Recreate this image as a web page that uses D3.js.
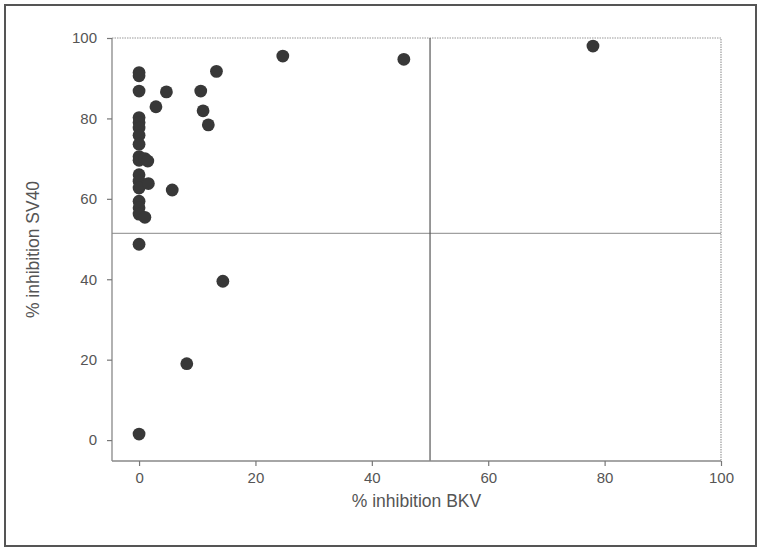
<!DOCTYPE html>
<html>
<head>
<meta charset="utf-8">
<script src="https://cdn.jsdelivr.net/npm/d3@7"></script>
<style>
  html, body { margin: 0; padding: 0; background: #fff; }
  svg { display: block; font-family: "Liberation Sans", Arial, sans-serif; }
</style>
</head>
<body>
<svg id="chart" width="761" height="550"></svg>
<script>
// Percent inhibition of BKV (x) and SV40 (y) for each sample
const bkv  = [0, 0, 0, 0, 0, 0, 0, 0, 0, 0, 0, 0, 0, 0, 0, 0, 0, 0,
              1.0, 1.5, 1.6, 1.0, 4.7, 2.9, 5.7, 10.6, 11.0, 11.9, 13.3,
              24.7, 45.5, 78.0, 14.4, 8.2];
const sv40 = [91.4, 90.6, 86.8, 80.2, 79.0, 77.6, 75.8, 73.6, 70.5, 69.6, 66.0, 64.4,
              62.7, 59.4, 57.8, 56.2, 48.7, 1.5,
              70.0, 69.4, 63.8, 55.4, 86.6, 82.9, 62.2, 86.8, 81.9, 78.4, 91.7,
              95.5, 94.7, 98.0, 39.5, 19.0];
const xTicks = [0, 20, 40, 60, 80, 100];
const yTicks = [0, 20, 40, 60, 80, 100];
const xCut = 50;    // vertical divider
const yCut = 51.4;  // horizontal divider

const svg = d3.select("#chart");
const plot = { left: 112, right: 721, top: 38, bottom: 461 };

const x = d3.scaleLinear().domain([-4.65, 100]).range([plot.left, plot.right]);
const y = d3.scaleLinear().domain([-5.2, 100]).range([plot.bottom, plot.top]);

// outer frame
svg.append("rect")
  .attr("x", 5).attr("y", 5).attr("width", 751).attr("height", 541)
  .attr("fill", "none").attr("stroke", "#555").attr("stroke-width", 2);

// top and right plot border (dotted)
svg.append("path")
  .attr("d", `M${plot.left},${plot.top}H${plot.right}V${plot.bottom}`)
  .attr("fill", "none").attr("stroke", "#999").attr("stroke-width", 1.2)
  .attr("stroke-dasharray", "1.5,1");

// dividers
svg.append("line")
  .attr("x1", plot.left).attr("x2", plot.right).attr("y1", y(yCut)).attr("y2", y(yCut))
  .attr("stroke", "#a0a0a0").attr("stroke-width", 1.2);
svg.append("line")
  .attr("x1", x(xCut)).attr("x2", x(xCut)).attr("y1", plot.top).attr("y2", plot.bottom)
  .attr("stroke", "#555").attr("stroke-width", 1.2);

// axes
const xAxis = d3.axisBottom(x).tickValues(xTicks).tickSize(5).tickPadding(6).tickSizeOuter(0);
const yAxis = d3.axisLeft(y).tickValues(yTicks).tickSize(5).tickPadding(10).tickSizeOuter(0);

const gx = svg.append("g").attr("transform", `translate(0,${plot.bottom})`).call(xAxis);
const gy = svg.append("g").attr("transform", `translate(${plot.left},0)`).call(yAxis);
[gx, gy].forEach(g => {
  g.select(".domain").attr("stroke", "#888").attr("stroke-width", 1.3);
  g.selectAll(".tick line").attr("stroke", "#777").attr("stroke-width", 1.2);
  g.selectAll(".tick text").attr("fill", "#555").attr("font-size", 15)
    .attr("font-family", "'Liberation Sans', Arial, sans-serif");
});
gx.select(".domain").attr("d", `M${plot.left},0H${plot.right}`);
gy.select(".domain").attr("d", `M0,${plot.top}V${plot.bottom}`);

// axis titles
svg.append("text")
  .attr("x", (plot.left + plot.right) / 2) .attr("y", 507)
  .attr("text-anchor", "middle").attr("fill", "#555").attr("font-size", 17.5)
  .text("% inhibition BKV");
svg.append("text")
  .attr("transform", `translate(39,${(plot.top + plot.bottom) / 2}) rotate(-90)`)
  .attr("text-anchor", "middle").attr("fill", "#555").attr("font-size", 17.5)
  .text("% inhibition SV40");

// points
svg.append("g").selectAll("circle")
  .data(bkv.map((v, i) => [v, sv40[i]]))
  .join("circle")
  .attr("cx", d => x(d[0]))
  .attr("cy", d => y(d[1]))
  .attr("r", 6.4)
  .attr("fill", "#383838");
</script>
</body>
</html>
